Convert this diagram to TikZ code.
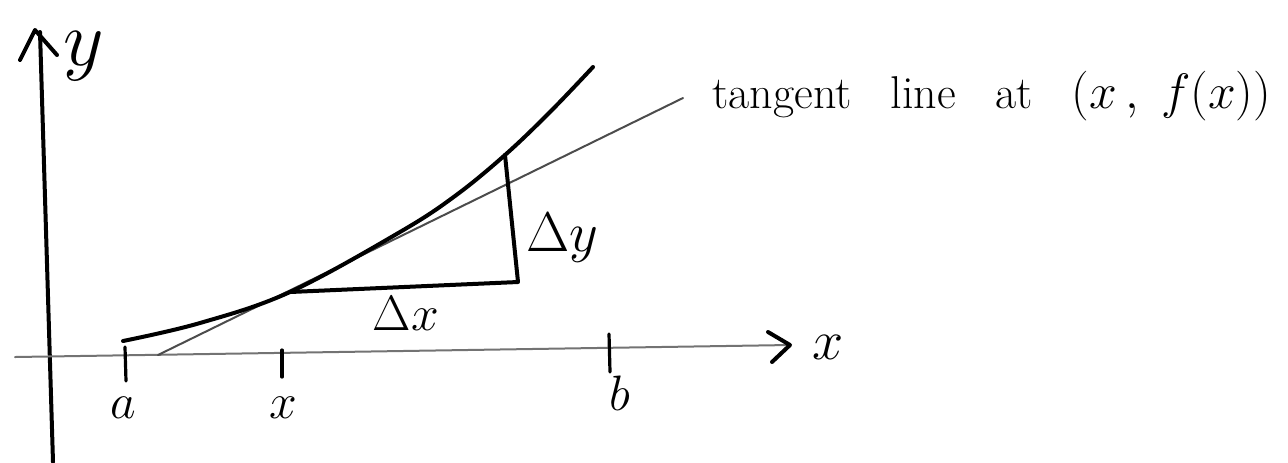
\documentclass[tikz,border=0pt]{standalone}
\usepackage{graphicx}
\usetikzlibrary{calc}
\begin{document}
\begin{tikzpicture}[x=0.5pt,y=-0.5pt,
  thickline/.style={line width=2pt,line cap=round,line join=round},
  tickline/.style={line width=1.6pt,line cap=round},
  faintline/.style={line width=1pt,black!55,line cap=round},
  lab/.style={inner sep=0pt,font=\fontsize{23}{27}\selectfont}]
\useasboundingbox (0,0) rectangle (1288,462);
% y-axis
\coordinate (ybot) at (53,462);
\coordinate (ytop) at (40,32);
\coordinate (yl) at (20,60);
\coordinate (yr) at (57,55);
\coordinate (yapex) at (35,30);
\draw[thickline] (ybot) -- (ytop);
\draw[thickline] (yl) -- (yapex) -- (yr);
\node[lab,font=\fontsize{20}{24}\selectfont] (ylab) at (84,56) {\scalebox{1.9}{$y$}};
% x-axis
\coordinate (xleft) at (15,357);
\coordinate (xright) at (790,345);
\coordinate (xau) at (768,332);
\coordinate (xal) at (772,362);
\draw[faintline] (xleft) -- (xright);
\draw[thickline] (xau) -- (xright) -- (xal);
\node[lab,font=\fontsize{20}{24}\selectfont] (xlab) at (828,347) {\scalebox{1.35}{$x$}};
% ticks
\coordinate (ta1) at (125,347); \coordinate (ta2) at (126,381);
\coordinate (tx1) at (282,350); \coordinate (tx2) at (282,377);
\coordinate (tb1) at (609,334); \coordinate (tb2) at (610,372);
\draw[tickline] (ta1) -- (ta2);
\draw[tickline] (tx1) -- (tx2);
\draw[tickline] (tb1) -- (tb2);
\node[lab] (alab) at (123,408) {$a$};
\node[lab] (xtlab) at (283,408) {$x$};
\node[lab] (blab) at (620,393) {$b$};
% tangent line
\coordinate (tlow) at (158,355);
\coordinate (thigh) at (683,98);
\draw[faintline,black!70] (tlow) -- (thigh);
% curve
\draw[thickline] plot[smooth,tension=0.6] coordinates {(123,341) (200,323) (290,292) (400,232) (455,196) (505,155) (550,112) (593,67)};
% triangle
\coordinate (P) at (290,292);
\coordinate (Q) at (518,282);
\coordinate (R) at (505,155);
\draw[thickline] (P) -- (Q) -- (R);
\node[lab,font=\fontsize{20}{24}\selectfont] (dylab) at (562,238) {\scalebox{1.35}{$\Delta y$}};
\node[lab,font=\fontsize{24}{28}\selectfont] (dxlab) at (406,313) {$\Delta x$};
% tangent label
\node[lab,anchor=base west,font=\fontsize{23}{27}\selectfont] (tlab) at (712,108) {tangent\hspace{0.55em} line\hspace{0.55em} at\hspace{0.55em} $(x\,,\ f(x))$};
\end{tikzpicture}
\end{document}
